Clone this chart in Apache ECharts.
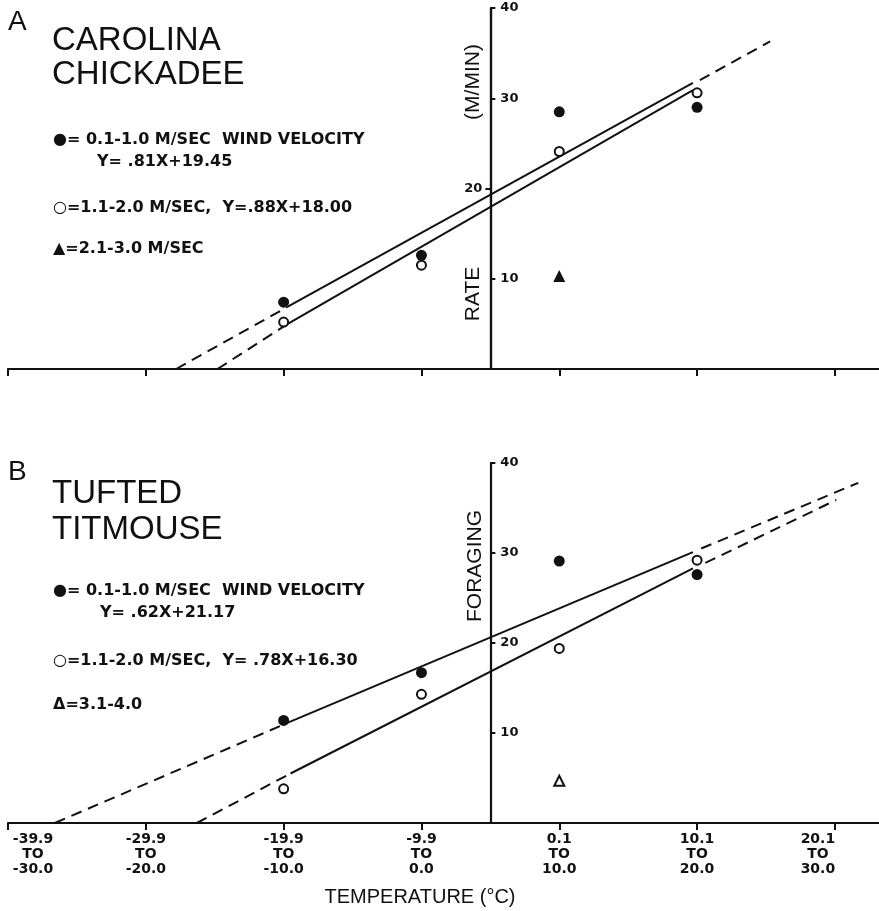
<!DOCTYPE html>
<html><head><meta charset="utf-8">
<script src="https://cdn.jsdelivr.net/npm/echarts@6/dist/echarts.min.js"></script>
<style>html,body{margin:0;padding:0;background:#fff}#c{width:879px;height:911px}</style>
</head><body><div id="c"></div>
<script>
// ---------- data ----------
const xTickValues = [-35, -25, -15, -5, 5, 15, 25];
const xTickLabels = [
  ['-39.9', 'TO', '-30.0'], ['-29.9', 'TO', '-20.0'], ['-19.9', 'TO', '-10.0'],
  ['-9.9', 'TO', '0.0'], ['0.1', 'TO', '10.0'], ['10.1', 'TO', '20.0'], ['20.1', 'TO', '30.0']
];
const yTicksRightA = [10, 30, 40];
const yTicksLeftA = [20];
const yTicksB = [10, 20, 30, 40];

// Panel A: Carolina Chickadee
const chickadeeCalm = [[-15, 7.4], [-5, 12.6], [5, 28.5], [15, 29.0]];
const chickadeeModerate = [[-15, 5.2], [-5, 11.5], [5, 24.1], [15, 30.6]];
const chickadeeWindy = [[5, 10.3]];
const chickadeeCalmFit = [[-14.7, 6.9], [14.7, 31.7]];
const chickadeeModerateFit = [[-14.7, 5.0], [14.7, 30.9]];
const chickadeeCalmExtLeft = [[-22.8, 0], [-14.7, 6.9]];
const chickadeeModerateExtLeft = [[-19.8, 0], [-14.7, 5.0]];
const chickadeeExtRight = [[15.2, 32.0], [20.3, 36.3]];

// Panel B: Tufted Titmouse
const titmouseCalm = [[-15, 11.4], [-5, 16.7], [5, 29.1], [15, 27.6]];
const titmouseModerate = [[-15, 3.8], [-5, 14.3], [5, 19.4], [15, 29.2]];
const titmouseWindy = [[5, 4.7]];
const titmouseCalmFit = [[-14.6, 11.2], [14.7, 30.1]];
const titmouseModerateFit = [[-14.5, 5.5], [14.7, 28.3]];
const titmouseCalmExtLeft = [[-31.6, 0], [-14.6, 11.2]];
const titmouseModerateExtLeft = [[-21.3, 0], [-14.5, 5.5]];
const titmouseCalmExtRight = [[15.3, 30.5], [26.7, 37.8]];
const titmouseModerateExtRight = [[15.6, 28.9], [25.1, 35.9]];

// ---------- chart ----------
const INK = '#111';
const X_MIN = -35, X_MAX = 28.2;
const GRID_LEFT = 8, GRID_WIDTH = 871;
// y axis sits at temperature 0 (boundary between -9.9..0.0 and 0.1..10.0)
const Y_AXIS_OFFSET = -((0 - X_MIN) / (X_MAX - X_MIN)) * GRID_WIDTH;

const chart = echarts.init(document.getElementById('c'));

function xLabelFormatter(v) {
  const i = xTickValues.findIndex(t => Math.abs(t - v) < 1e-6);
  if (i < 0) return '';
  const s = (i === xTickLabels.length - 1) ? 'e' : 'c';
  return xTickLabels[i].map(t => '{' + s + '|' + t + '}').join('\n');
}

function xAxisCfg(grid, withLabels) {
  return {
    gridIndex: grid, type: 'value', min: X_MIN, max: X_MAX, position: 'bottom',
    axisLine: { show: true, onZero: false, lineStyle: { color: INK, width: 2.2 } },
    axisTick: { show: true, customValues: xTickValues, length: 7, inside: false, lineStyle: { color: INK, width: 2 } },
    axisLabel: withLabels ? {
      show: true, customValues: xTickValues, margin: 9, alignMinLabel: 'left',
      formatter: xLabelFormatter,
      rich: {
        c: { width: 50, align: 'center', fontFamily: 'DejaVu Sans', fontWeight: 'bold', fontSize: 14, lineHeight: 15, color: INK },
        e: { width: 50, align: 'center', padding: [0, 34, 0, 0], fontFamily: 'DejaVu Sans', fontWeight: 'bold', fontSize: 14, lineHeight: 15, color: INK }
      }
    } : { show: false },
    splitLine: { show: false }
  };
}

function yAxisCfg(grid, ticks, inside) {
  return {
    gridIndex: grid, type: 'value', min: 0, max: 40, position: 'left', offset: Y_AXIS_OFFSET,
    axisLine: { show: true, onZero: false, lineStyle: { color: INK, width: 2.2 } },
    axisTick: { show: true, customValues: ticks, inside: inside, length: 5, lineStyle: { color: INK, width: 2 } },
    axisLabel: { show: true, customValues: ticks, inside: inside, margin: inside ? 10 : 8,
      color: INK, fontFamily: 'DejaVu Sans', fontWeight: 'bold', fontSize: 13 },
    splitLine: { show: false }
  };
}

function scatter(data, xi, yi, symbol, filled, size) {
  return {
    type: 'scatter', xAxisIndex: xi, yAxisIndex: yi, data: data, symbol: symbol, symbolSize: size, z: 5,
    itemStyle: filled ? { color: INK, opacity: 1 } : { color: '#fff', borderColor: INK, borderWidth: 2, opacity: 1 }
  };
}
function line(data, xi, yi, dashed) {
  return {
    type: 'line', xAxisIndex: xi, yAxisIndex: yi, data: data, symbol: 'none', z: 3,
    lineStyle: { color: INK, width: 2, type: dashed ? [11, 7] : 'solid' }
  };
}

function txt(text, x, y, font) {
  return {
    type: 'text', x: x, y: y,
    style: { text: text, x: 0, y: 0, font: font, fill: INK,
      align: 'left', textAlign: 'left', verticalAlign: 'middle', textVerticalAlign: 'middle' }
  };
}
function vtxt(text, x, y, font) {
  return {
    type: 'text', x: x, y: y, rotation: Math.PI / 2,
    style: { text: text, x: 0, y: 0, font: font, fill: INK,
      align: 'center', textAlign: 'center', verticalAlign: 'middle', textVerticalAlign: 'middle' }
  };
}

const titleFont = '33px "Liberation Sans"';
const letterFont = '28px "Liberation Sans"';
const legFont = 'bold 16px "DejaVu Sans"';
const vFont = '21px "Liberation Sans"';

const option = {
  animation: false,
  backgroundColor: '#fff',
  grid: [
    { left: GRID_LEFT, width: GRID_WIDTH, top: 8, height: 361, containLabel: false, outerBoundsMode: 'none' },
    { left: GRID_LEFT, width: GRID_WIDTH, top: 463, height: 360, containLabel: false, outerBoundsMode: 'none' }
  ],
  xAxis: [xAxisCfg(0, false), xAxisCfg(1, true)],
  yAxis: [
    yAxisCfg(0, yTicksRightA, true),
    yAxisCfg(0, yTicksLeftA, false),
    yAxisCfg(1, yTicksB, true)
  ],
  series: [
    line(chickadeeCalmFit, 0, 0, false),
    line(chickadeeModerateFit, 0, 0, false),
    line(chickadeeCalmExtLeft, 0, 0, true),
    line(chickadeeModerateExtLeft, 0, 0, true),
    line(chickadeeExtRight, 0, 0, true),
    scatter(chickadeeCalm, 0, 0, 'circle', true, 11),
    scatter(chickadeeModerate, 0, 0, 'circle', false, 9),
    scatter(chickadeeWindy, 0, 0, 'triangle', true, 12),

    line(titmouseCalmFit, 1, 2, false),
    line(titmouseModerateFit, 1, 2, false),
    line(titmouseCalmExtLeft, 1, 2, true),
    line(titmouseModerateExtLeft, 1, 2, true),
    line(titmouseCalmExtRight, 1, 2, true),
    line(titmouseModerateExtRight, 1, 2, true),
    scatter(titmouseCalm, 1, 2, 'circle', true, 11),
    scatter(titmouseModerate, 1, 2, 'circle', false, 9),
    scatter(titmouseWindy, 1, 2, 'triangle', false, 10)
  ],
  graphic: [
    txt('A', 8, 22, letterFont),
    txt('CAROLINA', 52, 41, titleFont),
    txt('CHICKADEE', 52, 75, titleFont),
    txt('\u25CF= 0.1-1.0 M/SEC  WIND VELOCITY', 53, 140, legFont),
    txt('Y= .81X+19.45', 97, 162, legFont),
    txt('\u25CB=1.1-2.0 M/SEC,  Y=.88X+18.00', 53, 208, legFont),
    txt('\u25B2=2.1-3.0 M/SEC', 53, 249, legFont),
    vtxt('(M/MIN)', 473, 82, vFont),
    vtxt('RATE', 473, 294, vFont),

    txt('B', 8, 472, letterFont),
    txt('TUFTED', 52, 494, titleFont),
    txt('TITMOUSE', 52, 530, titleFont),
    txt('\u25CF= 0.1-1.0 M/SEC  WIND VELOCITY', 53, 591, legFont),
    txt('Y= .62X+21.17', 100, 613, legFont),
    txt('\u25CB=1.1-2.0 M/SEC,  Y= .78X+16.30', 53, 661, legFont),
    txt('\u0394=3.1-4.0', 53, 705, legFont),
    vtxt('FORAGING', 475, 566, vFont),

    {
      type: 'text', x: 420, y: 897,
      style: { text: 'TEMPERATURE (\u00B0C)', x: 0, y: 0, font: '20px "Liberation Sans"', fill: INK,
        align: 'center', textAlign: 'center', verticalAlign: 'middle', textVerticalAlign: 'middle' }
    }
  ]
};
chart.setOption(option);
</script>
</body></html>
